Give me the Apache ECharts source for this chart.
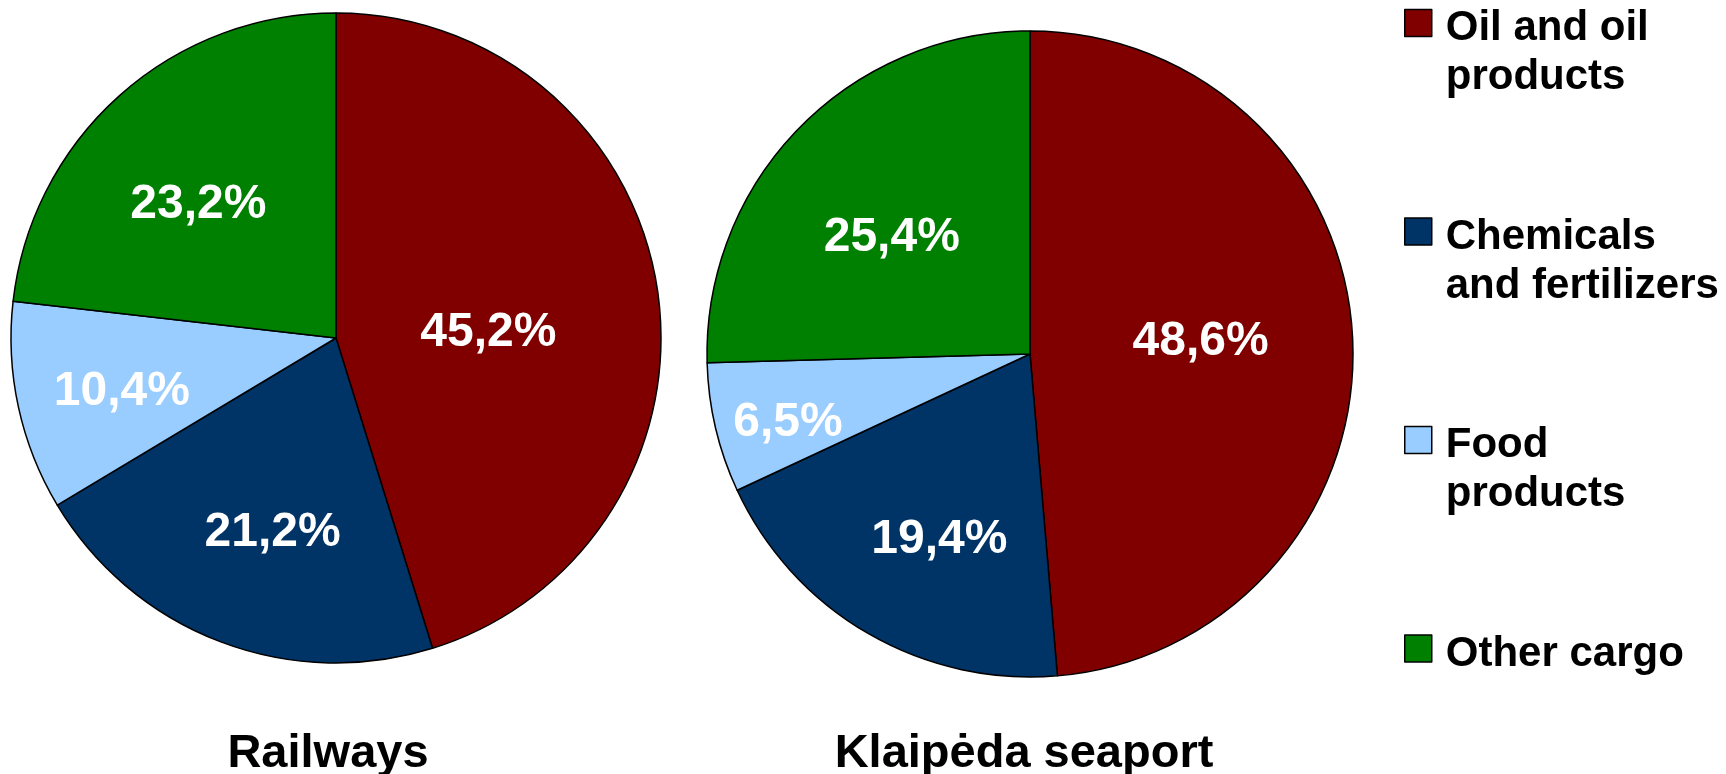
<!DOCTYPE html>
<html>
<head>
<meta charset="utf-8">
<script src="https://cdn.jsdelivr.net/npm/echarts@6/dist/echarts.min.js"></script>
<style>
  html, body { margin: 0; padding: 0; background: #fff; }
  #chart { width: 1726px; height: 774px; }
</style>
</head>
<body>
<div id="chart"></div>
<script>
// ------------------------------------------------------- //
// Data
// ------------------------------------------------------ //
var categories = ['Oil and oil products', 'Chemicals and fertilizers', 'Food products', 'Other cargo'];
var legendLines = [['Oil and oil', 'products'], ['Chemicals', 'and fertilizers'], ['Food', 'products'], ['Other cargo', ' ']];
var railways = [45.2, 21.2, 10.4, 23.2];
var seaport = [48.6, 19.4, 6.5, 25.4];
var pieTitles = ['Railways', 'Klaipėda seaport'];

var colors = ['#800000', '#003366', '#99CCFF', '#008000'];
var font = "'Liberation Sans', Arial, sans-serif";

// label spots like the original: [share of radius, angle clockwise from top]
var labelSpotsLeft = [[0.46, 88], [0.62, 198], [0.67, 256], [0.58, 314]];
var labelSpotsRight = [[0.52, 86], [0.63, 206], [0.77, 254], [0.55, 310]];

function pieData(values, radius, spots) {
    var total = values.reduce(function (a, b) { return a + b; }, 0);
    var acc = 0;
    return values.map(function (v, i) {
        var mid = (acc + v / 2) / total * Math.PI * 2;
        acc += v;
        // default 'inside' spot is half the radius on the mid angle
        var a = spots[i][1] * Math.PI / 180;
        var f = spots[i][0] * radius;
        var dx = f * Math.sin(a) - 0.5 * radius * Math.sin(mid);
        var dy = -f * Math.cos(a) + 0.5 * radius * Math.cos(mid);
        return {
            name: categories[i],
            value: v,
            label: { offset: [dx, dy] }
        };
    });
}

function makePie(values, center, radius, spots) {
    return {
        type: 'pie',
        center: center,
        radius: radius,
        startAngle: 90,
        clockwise: true,
        animation: false,
        emphasis: { disabled: true },
        itemStyle: { borderColor: '#000', borderWidth: 1.5 },
        label: {
            show: true,
            position: 'inside',
            color: '#fff',
            fontFamily: font,
            fontWeight: 'bold',
            fontSize: 48,
            formatter: function (p) {
                return p.value.toFixed(1).replace('.', ',') + '%';
            }
        },
        labelLine: { show: false },
        data: pieData(values, radius, spots)
    };
}

var legendText = { fontFamily: font, fontWeight: 'bold', fontSize: 42, lineHeight: 49, color: '#000' };

var chart = echarts.init(document.getElementById('chart'));
var option = {
    color: colors,
    animation: false,
    title: [{
        text: pieTitles[0],
        left: 328, top: 731, padding: 0,
        textAlign: 'center',
        textStyle: { fontFamily: font, fontWeight: 'bold', fontSize: 47, color: '#000' }
    }, {
        text: pieTitles[1],
        left: 1024, top: 731, padding: 0,
        textAlign: 'center',
        textStyle: { fontFamily: font, fontWeight: 'bold', fontSize: 47, color: '#000' }
    }],
    legend: {
        orient: 'vertical',
        left: 1404,
        top: -47,
        padding: 0,
        itemGap: 63,
        itemWidth: 27,
        itemHeight: 27,
        icon: 'rect',
        selectedMode: false,
        itemStyle: { borderColor: '#000', borderWidth: 1.5 },
        data: categories,
        formatter: function (name) {
            var l = legendLines[categories.indexOf(name)];
            // empty first line keeps the square level with the first text line
            return '{e| }\n{t|' + l[0] + '}\n{t|' + l[1] + '}';
        },
        textStyle: {
            fontFamily: font,
            fontWeight: 'bold',
            fontSize: 42,
            color: '#000',
            padding: [0, 0, 0, 9],
            rich: {
                e: { fontFamily: font, fontSize: 42, lineHeight: 60 },
                t: legendText
            }
        }
    },
    series: [
        makePie(railways, [336, 338], 325, labelSpotsLeft),
        makePie(seaport, [1030, 354], 323, labelSpotsRight)
    ]
};
chart.setOption(option);
</script>
</body>
</html>
